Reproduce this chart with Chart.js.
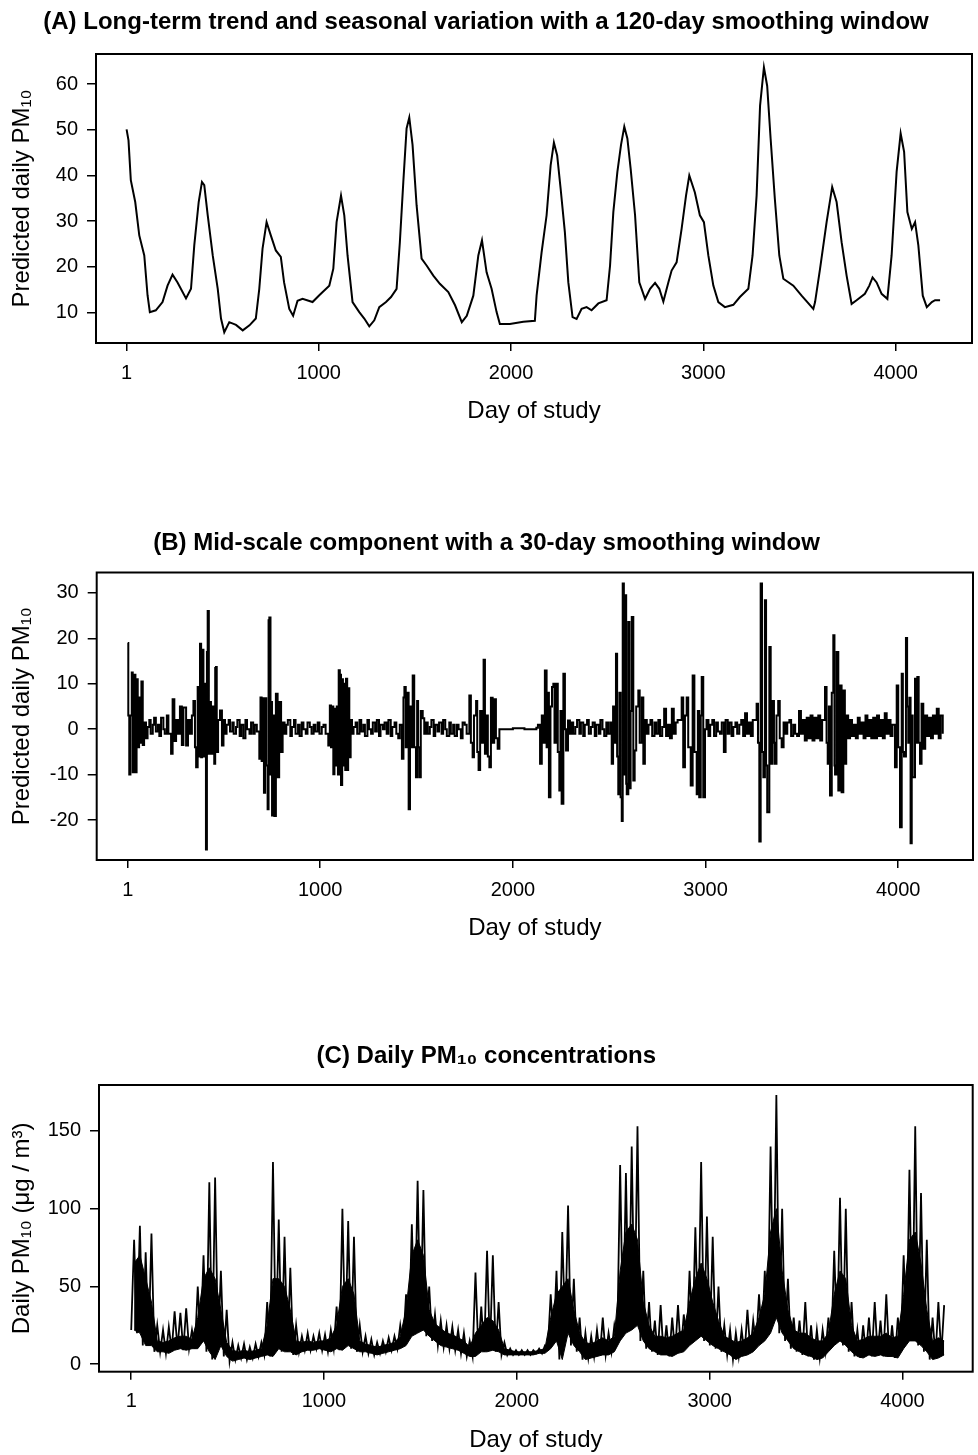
<!DOCTYPE html>
<html>
<head>
<meta charset="utf-8">
<script src="https://cdn.jsdelivr.net/npm/chart.js@4.4.1/dist/chart.umd.min.js"></script>
<style>
	body { margin: 0; background: #fff; }
	#main { position: relative; width: 978px; height: 1455px; }
	canvas { position: absolute; left: 0; display: block; }
</style>
</head>
<body>
<div id="main">
	<canvas id="chartA" width="978" height="480" style="top:0px"></canvas>
	<canvas id="chartB" width="978" height="510" style="top:480px"></canvas>
	<canvas id="chartC" width="978" height="465" style="top:990px"></canvas>
</div>
<script>
// tick labels
const xTicks = [1, 1000, 2000, 3000, 4000]
const yTicksA = [10, 20, 30, 40, 50, 60]
const yTicksB = [-20, -10, 0, 10, 20, 30]
const yTicksC = [0, 50, 100, 150]

// (A) 120-day smoothed series
const daysA = [1, 11, 23, 46, 67, 93, 110, 122, 153, 188,
	214, 240, 266, 310, 336, 353, 376, 393, 405, 423,
	449, 475, 492, 509, 535, 570, 605, 640, 673, 691,
	708, 729, 751, 777, 803, 820, 847, 867, 890, 916,
	968, 1003, 1055, 1076, 1093, 1116, 1133, 1150, 1176, 1211,
	1237, 1263, 1289, 1315, 1350, 1376, 1405, 1422, 1440, 1457,
	1471, 1488, 1509, 1535, 1561, 1596, 1630, 1674, 1709, 1744,
	1770, 1804, 1830, 1849, 1873, 1899, 1925, 1942, 1994, 2064,
	2124, 2133, 2159, 2185, 2206, 2223, 2240, 2258, 2280, 2298,
	2320, 2341, 2367, 2393, 2419, 2454, 2497, 2515, 2532, 2553,
	2572, 2589, 2605, 2622, 2645, 2667, 2697, 2723, 2749, 2771,
	2792, 2818, 2835, 2861, 2887, 2910, 2927, 2956, 2982, 3003,
	3026, 3052, 3078, 3112, 3156, 3190, 3234, 3256, 3277, 3295,
	3315, 3332, 3350, 3372, 3395, 3416, 3468, 3511, 3572, 3581,
	3607, 3641, 3670, 3693, 3719, 3745, 3771, 3797, 3840, 3863,
	3880, 3901, 3927, 3957, 3979, 4005, 4026, 4044, 4061, 4084,
	4101, 4118, 4141, 4162, 4188, 4205, 4231]
const pmA = [50.1, 47.7, 39.0, 34.2, 26.9, 22.5, 13.8, 10.1, 10.5, 12.3,
	15.9, 18.3, 16.6, 13.1, 15.2, 24.7, 34.2, 38.6, 37.9, 31.3,
	22.5, 15.2, 8.7, 5.7, 7.9, 7.3, 6.1, 7.2, 8.7, 15.2,
	24.0, 29.8, 26.9, 23.6, 22.2, 16.6, 10.8, 9.3, 12.6, 13.0,
	12.3, 13.8, 15.9, 19.6, 29.8, 35.6, 31.3, 22.5, 12.3, 10.1,
	8.7, 7.0, 8.3, 11.2, 12.3, 13.4, 15.2, 25.4, 38.6, 50.3,
	52.7, 46.7, 33.5, 21.8, 20.3, 18.1, 16.3, 14.5, 11.6, 7.9,
	9.3, 13.7, 22.5, 25.8, 18.8, 15.2, 10.1, 7.5, 7.5, 8.0,
	8.2, 13.7, 23.2, 31.3, 42.2, 47.2, 44.4, 37.1, 27.6, 16.6,
	9.0, 8.6, 10.8, 11.2, 10.5, 12.0, 12.7, 20.3, 32.0, 40.8,
	46.7, 50.7, 48.1, 41.5, 31.3, 16.6, 13.0, 15.2, 16.5, 15.2,
	12.4, 16.6, 19.2, 21.0, 28.3, 35.6, 40.0, 36.3, 31.3, 29.8,
	22.5, 15.9, 12.3, 11.2, 11.7, 13.4, 15.2, 22.5, 35.6, 55.3,
	63.7, 59.6, 48.0, 34.8, 22.5, 17.4, 15.9, 13.7, 10.8, 12.3,
	19.6, 29.8, 37.5, 34.2, 25.4, 18.1, 11.9, 12.7, 14.1, 15.9,
	17.7, 16.6, 14.1, 13.0, 22.5, 40.8, 49.2, 45.2, 32.0, 28.3,
	29.8, 24.7, 13.7, 11.2, 12.3, 12.7, 12.7]

// (B) 30-day mid-scale component, one value per stroke
const daysB = [
	1, 4, 9, 15, 22, 27, 33, 41, 47, 53, 60, 66, 72, 79, 86,
	96, 104, 113, 120, 131, 138, 147, 158, 165, 174, 186, 193, 204, 212,
	226, 234, 243, 252, 262, 272, 282, 290, 304, 314, 324, 334, 342, 350, 356, 364, 370, 376, 382, 387, 394, 400, 407, 412, 416, 422, 427, 433, 440, 450, 455, 459, 463, 470, 480, 490, 498,
	506, 514, 525, 532, 544, 551, 563, 570, 582, 590, 601, 612, 620, 633, 641, 652, 660, 671,
	684, 690, 696, 702, 708, 714, 720, 727, 732, 736, 742, 746, 750, 756, 762, 770, 779, 787, 797, 805,
	815, 824, 832, 845, 853, 864, 872, 885, 893, 904, 913, 925, 934, 946, 955, 966, 975, 987, 996, 1008, 1017, 1028,
	1042, 1050, 1056, 1062, 1068, 1074, 1080, 1086, 1092, 1096, 1102, 1106, 1108, 1114, 1118, 1124, 1130, 1134, 1140, 1145, 1151, 1158,
	1165, 1173, 1184, 1192, 1204, 1213, 1224, 1232, 1245, 1253, 1264, 1273, 1285, 1294, 1305, 1313, 1326, 1334, 1345, 1354, 1366, 1374, 1386, 1395, 1405, 1413,
	1424, 1432, 1437, 1444, 1452, 1459, 1466, 1474, 1480, 1488, 1497, 1503, 1508, 1514, 1522, 1532, 1540,
	1550, 1558, 1569, 1577, 1589, 1597, 1609, 1617, 1630, 1638, 1649, 1657, 1670, 1678, 1690, 1698, 1710, 1718, 1730, 1739, 1750, 1760,
	1774, 1782, 1791, 1798, 1809, 1815, 1822, 1830, 1840, 1848, 1855, 1862, 1870, 1878, 1886, 1895, 1903, 1912, 1921, 1930,
	1940, 2000, 2060, 2122,
	2130, 2141, 2150, 2158, 2166, 2175, 2181, 2187, 2195, 2203, 2210, 2216, 2224, 2233, 2241, 2247, 2253, 2262, 2270, 2276, 2286, 2296,
	2305, 2313, 2324, 2333, 2345, 2353, 2365, 2373, 2385, 2394, 2405, 2414, 2425, 2433, 2446, 2454, 2465, 2474, 2485, 2494, 2505,
	2513, 2520, 2528, 2535, 2541, 2547, 2553, 2559, 2565, 2570, 2576, 2582, 2588, 2591, 2599, 2605, 2611, 2617, 2625, 2632, 2640, 2651, 2658, 2669, 2677, 2685,
	2695, 2704, 2714, 2723, 2735, 2744, 2755, 2764, 2775, 2785, 2795, 2805, 2815, 2825, 2835, 2845, 2855,
	2876, 2884, 2893, 2902, 2910, 2923, 2933, 2942, 2954, 2960, 2967, 2975, 2980, 2988, 2997, 3005,
	3015, 3024, 3035, 3044, 3055, 3064, 3075, 3084, 3095, 3104, 3115, 3124, 3135, 3144, 3155, 3164, 3175, 3185, 3195, 3205, 3215, 3225, 3235, 3245,
	3265, 3272, 3279, 3286, 3293, 3300, 3308, 3314, 3320, 3331, 3338, 3348, 3355, 3360, 3368, 3377, 3385, 3395, 3405,
	3415, 3424, 3435, 3444, 3455, 3465, 3475, 3485, 3495, 3505, 3515, 3525, 3535, 3545, 3555, 3565, 3575, 3585, 3595, 3605,
	3620, 3628, 3634, 3640, 3646, 3655, 3663, 3669, 3672, 3680, 3689, 3697, 3706, 3715, 3723, 3730, 3740,
	3750, 3760, 3770, 3780, 3790, 3800, 3810, 3820, 3830, 3840, 3850, 3860, 3870, 3880, 3890, 3900, 3910, 3920, 3930, 3940, 3950, 3960, 3970,
	3983, 3992, 4000, 4009, 4018, 4024, 4030, 4040, 4046, 4052, 4058, 4064, 4070, 4075, 4087, 4093, 4099, 4106, 4113, 4121, 4130,
	4140, 4150, 4160, 4170, 4180, 4190, 4200, 4210, 4220, 4231]
const pmB = [
	19, 3, -10, 3, 12.5, -9.5, 12, -9.5, 11, -4, 7, -3, 10.5, -3.5, 1.5,
	-2, 0.5, 2, -1, 1, 2.5, -0.5, 1, -1.5, 2.5, 0, -1, 3, -1,
	-5.4, 6.6, -2.6, 2, -1, 5, -3.5, 4.8, -3.6, 2, -1, 3, 6.2, -4, -8.4, 9.3, -6, 18.8, -6.2, 17.5, -6, 10, -26.5, 17, 26, -5.4, 6, -5.4, 5, -7.6, 13.5, 13.7, -5, 2, 4.1, -3.6, 2,
	-1, 1, 2, -0.5, 1.5, -1, 0.5, 2, -1.5, 1, -2, 2, 0, -1, 1.5, -1, 1, -0.5,
	-6.5, 7, -7, 6.8, -14, 6.8, -8, -17.6, 24, 24.6, -10, 6, -19, 3, -19.1, 7.8, -10.6, 6, -5, 1.5,
	-1, 1, 2, -1.5, 0.5, 2, -1, 1, -1.5, 1.5, 0, -1, 1.5, 0.5, -1, 1, -0.5, 1.5, -1, 0.5, 1, -1,
	-3.6, 5.2, -4, 5, -9.9, 4.5, -8, 5, -10, 13, -10, 12, -12.3, 11, -8, 10, -9, 11.1, -9, 9, -6.2, 2,
	-1, 0.5, 1.5, -1, 2, -0.5, 1, -1.5, 2, 0, -1, 1.5, -0.5, 2, -1.5, 1, 0, 1.5, -1, 2, -1.5, 0.5, 1.5, -1, -2, 1,
	-6.5, 7, 9.3, -4, 8, -17.6, 5, -4, 11.8, -4, -10.6, 6.2, -4, -10.6, 4, 2.4, -1,
	1.5, -1, 0.5, 2, -1.5, 1, -0.5, 1.5, -1, 2, 0, -1.5, 1.5, -1, 1, -1.5, 1, 0, -2, 1.5, 1, -1,
	7.4, -3, -6.2, 3, 6.2, -5, -9, 4, -3, 15.3, -5.4, 3, -6, -8.4, 6.9, -3, 6.6, -2, -4.3, 0,
	0, 0.2, 0, 0.3,
	1, -7.6, 3, -3, 12.9, -4, 8, -15, 5, 9.3, 10, -3, 10, -5, -13.5, 4, -16.4, 12.2, 0, -4.7, 1.9, -1,
	1.5, -1, 0.5, 2, -1, 1.5, -1.5, 1, 2, -1, 0.5, 1.5, -1.5, 1, -1, 2, 0, -1.5, 1.5, -1, 1.5,
	-7.6, 5, -3, 16.6, -6, -14.3, 8, -15, -20.2, 32.1, -10, 29.5, -12, -14.3, 23.6, -13, 4, 24.7, -11.3, -4.7, 5, 8.5, -3, 7, -7.6, 2,
	-1, 1, 2, -1.5, 1.5, -1, 2, -1.5, 0.5, 4.5, -1.5, 1, -2, 4.5, -1, 1.5, 2,
	7, -8.4, 3, 7, -4, -12.4, 11.8, -5, -14.3, 4, -15, 3, 11.5, -15, 0, 2,
	-1.5, 1, 2, -1.5, 1.5, -0.5, -1, 1.5, -5, 2, -1, 1.5, -1.5, 0.5, 1.5, -1, 1, 2, -1.5, 3.5, -1, 1.5, -1.5, 2,
	5.6, -3, -24.7, 32.1, -5, -10.6, 28.4, -8, -18.3, 18.1, -7.6, 6.2, -3, -7.6, 3, 6.2, -2, -4, 1.5,
	-1, 1.5, 2, -1.5, 1, -1, -1.5, 4, -1, 2, -2.5, 2.5, -2, 3, -2.5, 2.5, -2, 3, -2.5, 2,
	9.3, -3, -7.6, 5, -14.6, 8, 20.7, -8, -10, 17, -13.5, 9.6, -13.9, 8.5, -7.6, 3, -2,
	2, -1.5, 1, -2, 2.5, -1, 1.5, -2, 3, -1.5, 2, -2, 2.5, -2, 3, -1.5, 2, -2, 3.5, -1, 2, -1.5, 1,
	-8.4, 9.6, -4, -21.6, 12.2, -5, -6, 20.1, 5, -3, 6.9, -25.1, 3, -10.6, 11.1, -3, 11.5, -3, -7.6, 5.6, -4.3,
	3, -1.5, 2.5, -2, 3, -1, 4.5, -2, 3, -1]

// (C) daily PM10 in 30-day stretches: band bottom, top of the dense core, highest spike
const binWidthC = 30
const lowC = [22, 20, 12, 12, 8, 8, 7, 9, 10, 9,
	10, 10, 15, 8, 3, 12, 5, 2, 3, 4,
	3, 4, 5, 6, 5, 10, 8, 8, 6, 8,
	9, 9, 10, 9, 8, 10, 9, 12, 10, 8,
	8, 7, 6, 7, 8, 9, 10, 12, 18, 20,
	22, 18, 15, 12, 11, 10, 9, 7, 5, 5,
	8, 8, 9, 8, 6, 6, 6, 6, 6, 6,
	7, 7, 10, 15, 3, 20, 12, 8, 3, 4,
	5, 6, 6, 8, 15, 20, 22, 25, 15, 10,
	8, 6, 6, 5, 7, 8, 12, 15, 18, 15,
	12, 10, 8, 6, 3, 5, 6, 8, 12, 15,
	20, 30, 20, 15, 10, 8, 6, 5, 3, 4,
	8, 12, 15, 12, 8, 5, 4, 6, 5, 6,
	5, 5, 4, 10, 15, 15, 12, 8, 3, 4,
	6]
const coreC = [65, 70, 55, 40, 15, 14, 15, 17, 18, 18,
	16, 30, 55, 62, 55, 35, 14, 9, 8, 9,
	8, 9, 10, 25, 55, 55, 50, 35, 15, 14,
	15, 14, 15, 15, 17, 25, 50, 55, 45, 15,
	13, 12, 11, 12, 13, 14, 18, 35, 70, 80,
	70, 35, 26, 23, 20, 19, 17, 15, 11, 20,
	25, 30, 28, 22, 10, 9, 8, 8, 8, 8,
	9, 10, 30, 45, 50, 55, 35, 20, 14, 13,
	15, 17, 15, 18, 60, 85, 90, 80, 40, 25,
	18, 18, 17, 18, 20, 22, 40, 55, 65, 55,
	40, 28, 18, 16, 14, 15, 17, 20, 30, 45,
	85, 100, 60, 35, 22, 20, 20, 17, 15, 15,
	20, 45, 60, 55, 25, 15, 16, 18, 18, 18,
	20, 17, 18, 45, 80, 85, 65, 35, 15, 17,
	15]
const highC = [80, 89, 72, 84, 25, 22, 24, 34, 33, 36,
	22, 50, 70, 117, 120, 60, 35, 14, 12, 13,
	11, 13, 14, 40, 130, 93, 82, 62, 25, 18,
	20, 18, 20, 19, 22, 37, 100, 92, 82, 25,
	18, 16, 14, 15, 17, 18, 25, 45, 90, 118,
	112, 50, 32, 28, 25, 24, 22, 20, 15, 59,
	37, 73, 70, 40, 14, 10, 9, 9, 9, 9,
	10, 12, 45, 60, 85, 102, 55, 30, 20, 18,
	22, 30, 20, 25, 128, 123, 140, 153, 60, 40,
	28, 38, 25, 30, 38, 32, 60, 88, 130, 95,
	82, 50, 25, 22, 20, 22, 35, 28, 45, 60,
	140, 173, 100, 55, 30, 28, 40, 25, 22, 22,
	30, 73, 107, 100, 40, 22, 25, 30, 40, 28,
	45, 25, 30, 70, 125, 153, 110, 80, 30, 40,
	38]

Chart.defaults.font.family = "'Liberation Sans', Arial, sans-serif"
Chart.defaults.color = '#000'

const boxPlugin = {
	id: 'box',
	afterDatasetsDraw(chart) {
		const {ctx, chartArea} = chart
		ctx.save()
		ctx.strokeStyle = '#000'
		ctx.lineWidth = 2
		ctx.strokeRect(chartArea.left, chartArea.top, chartArea.right - chartArea.left, chartArea.bottom - chartArea.top)
		ctx.restore()
	}
}

function pairUp(days, values) {
	return days.map((d, i) => ({x: d, y: values[i]}))
}

// band edge at the middle of each 30-day stretch
function binMid(values) {
	return values.map((v, i) => ({x: 1 + i * binWidthC + binWidthC / 2, y: v}))
}

// line running from each stretch's bottom up to its highest day
function zigzag(lows, highs) {
	let pts = []
	for (let i = 0; i < lows.length; i++) {
		const day = 1 + i * binWidthC
		pts.push({x: day, y: lows[i]})
		pts.push({x: day + binWidthC / 2, y: highs[i]})
	}
	return pts
}

function lineSet(points, width, extra) {
	return Object.assign({
		data: points,
		borderColor: '#000',
		borderWidth: width,
		pointRadius: 0,
		tension: 0,
		fill: false
	}, extra || {})
}

function makePanel(id, p) {
	const ctx = document.getElementById(id).getContext('2d')
	return new Chart(ctx, {
		type: 'line',
		data: {datasets: p.datasets},
		options: {
			responsive: false,
			animation: false,
			devicePixelRatio: 1,
			layout: {padding: {top: p.padTop, bottom: p.padBottom, left: 0, right: 978 - p.right}},
			plugins: {
				legend: {display: false},
				tooltip: {enabled: false},
				title: {
					display: true,
					text: p.title,
					font: {size: 24, weight: 'bold'},
					padding: {top: 0, bottom: p.titleGap}
				}
			},
			scales: {
				x: {
					type: 'linear',
					min: p.xMin,
					max: p.xMax,
					afterFit: s => { s.height = p.xHeight },
					afterBuildTicks: s => { s.ticks = xTicks.map(v => ({value: v})) },
					ticks: {font: {size: 20}, padding: 10, maxRotation: 0, autoSkip: false, callback: v => String(v)},
					grid: {drawOnChartArea: false, tickLength: 8, color: '#000', tickColor: '#000', lineWidth: 1.5},
					border: {display: false},
					title: {display: true, text: 'Day of study', font: {size: 24}, padding: {top: 0, bottom: p.xTitlePad}}
				},
				y: {
					min: p.yMin,
					max: p.yMax,
					afterFit: s => { s.width = p.left },
					afterBuildTicks: s => { s.ticks = p.yTicks.map(v => ({value: v})) },
					ticks: {font: {size: 20}, padding: 9, autoSkip: false, callback: v => String(v)},
					grid: {drawOnChartArea: false, tickLength: 9, color: '#000', tickColor: '#000', lineWidth: 1.5},
					border: {display: false},
					title: {display: true, text: p.yTitle, font: {size: 24}, padding: {top: 8, bottom: 0}}
				}
			}
		},
		plugins: [boxPlugin]
	})
}

makePanel('chartA', {
	datasets: [lineSet(pairUp(daysA, pmA), 2)],
	title: '(A) Long-term trend and seasonal variation with a 120-day smoothing window',
	yTitle: 'Predicted daily PM₁₀', yTicks: yTicksA,
	xMin: -158, xMax: 4397, yMin: 3.34, yMax: 66.6,
	left: 96, right: 972, padTop: 8, titleGap: 17.2,
	xHeight: 100, padBottom: 37, xTitlePad: 17.6
})

makePanel('chartB', {
	datasets: [lineSet(pairUp(daysB, pmB), 2, {stepped: true})],
	title: '(B) Mid-scale component with a 30-day smoothing window',
	yTitle: 'Predicted daily PM₁₀', yTicks: yTicksB,
	xMin: -160, xMax: 4388, yMin: -28.8, yMax: 34.5,
	left: 96.7, right: 973, padTop: 48.6, titleGap: 15.1,
	xHeight: 100, padBottom: 30, xTitlePad: 17.6
})

makePanel('chartC', {
	datasets: [
		lineSet(binMid(lowC), 1),
		lineSet(binMid(coreC), 1, {fill: '-1', backgroundColor: '#000'}),
		lineSet(zigzag(lowC, highC), 1.8)
	],
	title: '(C) Daily PM₁₀ concentrations',
	yTitle: 'Daily PM₁₀ (μg / m³)', yTicks: yTicksC,
	xMin: -166, xMax: 4364, yMin: -4.8, yMax: 179.5,
	left: 99, right: 972.7, padTop: 51.6, titleGap: 14.6,
	xHeight: 83, padBottom: 0.3, xTitlePad: 0.3
})
</script>
</body>
</html>
